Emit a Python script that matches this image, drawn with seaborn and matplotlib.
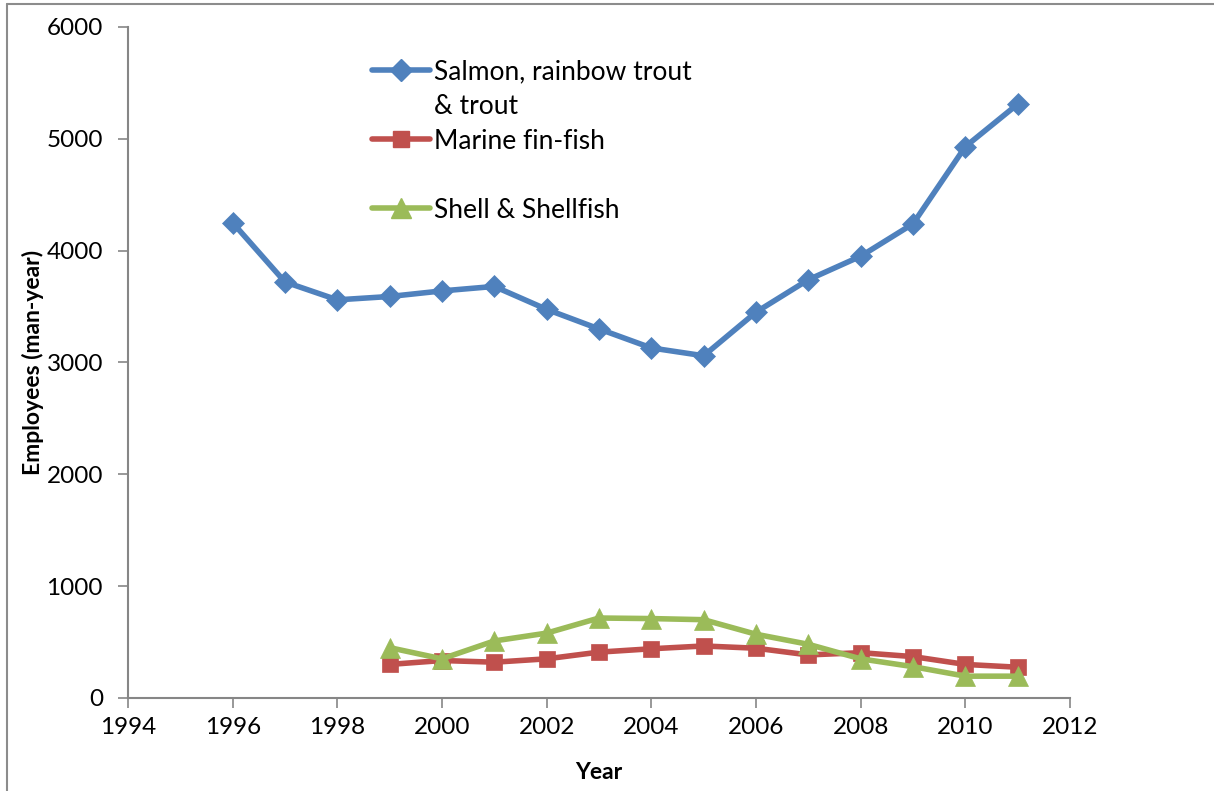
import matplotlib
matplotlib.use("Agg")
import matplotlib.pyplot as plt
from matplotlib.lines import Line2D
import pandas as pd
import seaborn as sns

# Employment in aquaculture by species group (man-years)
salmon_years = [1996, 1997, 1998, 1999, 2000, 2001, 2002, 2003,
                2004, 2005, 2006, 2007, 2008, 2009, 2010, 2011]
salmon_values = [4250, 3720, 3560, 3590, 3640, 3680, 3475, 3300,
                 3130, 3060, 3450, 3740, 3950, 4240, 4930, 5310]

other_years = [1999, 2000, 2001, 2002, 2003, 2004, 2005,
               2006, 2007, 2008, 2009, 2010, 2011]
marine_values = [300, 335, 320, 350, 410, 440, 465,
                 445, 385, 405, 370, 300, 275]
shell_values = [450, 350, 510, 580, 715, 710, 700,
                570, 480, 350, 280, 195, 195]

series_names = ["Salmon, rainbow trout", "Marine fin-fish", "Shell & Shellfish"]
x_ticks = list(range(1994, 2013, 2))
y_ticks = list(range(0, 6001, 1000))

colors = ["#4F81BD", "#C0504D", "#9BBB59"]
markers = ["D", "s", "^"]
marker_sizes = [11.5, 12, 14]
line_w = 4

sns.set_style("white")
plt.rcParams["font.family"] = ["Lato", "DejaVu Sans"]
plt.rcParams["text.color"] = "black"
plt.rcParams["axes.labelcolor"] = "black"
plt.rcParams["xtick.color"] = "black"
plt.rcParams["ytick.color"] = "black"

fig = plt.figure(figsize=(12.14, 7.91), dpi=100)
ax = fig.add_axes([0.1054, 0.1176, 0.776, 0.8483])

frames = [
    pd.DataFrame({"Year": salmon_years, "Employees": salmon_values}),
    pd.DataFrame({"Year": other_years, "Employees": marine_values}),
    pd.DataFrame({"Year": other_years, "Employees": shell_values}),
]

for df, c, m, ms in zip(frames, colors, markers, marker_sizes):
    sns.lineplot(data=df, x="Year", y="Employees", ax=ax, color=c,
                 linewidth=line_w, marker=m, markersize=ms,
                 markeredgecolor=c, markeredgewidth=0.5)

ax.set_xlim(1994, 2012)
ax.set_ylim(0, 6000)
ax.set_xticks(x_ticks)
ax.set_yticks(y_ticks)
ax.set_xticklabels([str(t) for t in x_ticks], fontsize=17.5)
ax.set_yticklabels([str(t) for t in y_ticks], fontsize=17.5)

for side in ["top", "right"]:
    ax.spines[side].set_visible(False)
for side in ["left", "bottom"]:
    ax.spines[side].set_color("#868686")
    ax.spines[side].set_linewidth(1.5)

ax.tick_params(axis="both", which="both", direction="out", length=7,
               width=1.2, color="#868686", labelcolor="black",
               left=True, bottom=True)
ax.tick_params(axis="x", pad=7)
ax.tick_params(axis="y", pad=11)

ax.set_xlabel("Year", fontsize=16.5, fontweight="bold", labelpad=17)
ax.set_ylabel("Employees (man-year)", fontsize=16.5, fontweight="bold",
              labelpad=2)

# Legend: the salmon label wraps onto a second row; a spacer row keeps even spacing
blank = Line2D([], [], linestyle="none")
handles = [
    Line2D([], [], color=colors[0], lw=line_w, marker=markers[0], markersize=11.5),
    blank,
    Line2D([], [], color=colors[1], lw=line_w, marker=markers[1], markersize=12),
    blank,
    Line2D([], [], color=colors[2], lw=line_w, marker=markers[2], markersize=14),
]
labels = [series_names[0], "& trout", series_names[1], " ", series_names[2]]
ax.legend(handles, labels, loc="upper left", bbox_to_anchor=(0.248, 0.967),
          frameon=False, fontsize=19, handlelength=2.2, handletextpad=0.15,
          labelspacing=0.36, borderaxespad=0.0)

# Thin outer frame along the top and left edges
fig.add_artist(Line2D([6.5 / 1214, 1.0], [1 - 4 / 791, 1 - 4 / 791],
                      transform=fig.transFigure, color="#8c8c8c", lw=1.5))
fig.add_artist(Line2D([6.5 / 1214, 6.5 / 1214], [0.0, 1 - 4 / 791],
                      transform=fig.transFigure, color="#8c8c8c", lw=1.5))

fig.savefig("out.png", dpi=100, facecolor="white")
